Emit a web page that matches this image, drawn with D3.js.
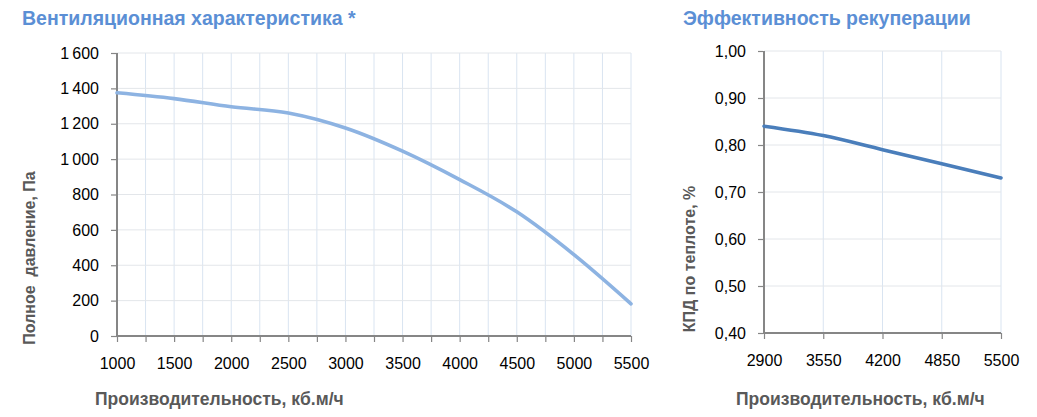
<!DOCTYPE html>
<html>
<head>
<meta charset="utf-8">
<script src="https://cdn.jsdelivr.net/npm/d3@7"></script>
<style>
  body { margin: 0; background: #fff; }
  svg { display: block; }
</style>
</head>
<body>
<div id="chart"></div>
<script>
// Data
const airflow = [1000, 1500, 2000, 2500, 3000, 3500, 4000, 4500, 5000, 5500];
const pressure = [1375, 1342, 1296, 1261, 1176, 1045, 884, 702, 460, 182];
const pressureTicks = [0, 200, 400, 600, 800, 1000, 1200, 1400, 1600];

const effFlow = [2900, 3550, 4200, 4850, 5500];
const efficiency = [0.84, 0.82, 0.79, 0.76, 0.73];
const effTicks = [0.4, 0.5, 0.6, 0.7, 0.8, 0.9, 1.0];

const titleLeft = "Вентиляционная характеристика *";
const titleRight = "Эффективность рекуперации";
const yLabelLeft = "Полное  давление, Па";
const yLabelRight = "КПД по теплоте, %";
const xLabel = "Производительность, кб.м/ч";

const width = 1037;
const height = 417;

const svg = d3.select("#chart")
    .append("svg")
    .attr("width", width)
    .attr("height", height);

const tickFont = "'Liberation Sans', Arial, sans-serif";
const boldFont = "'Liberation Sans', Arial, sans-serif";

// Draws one of the two panels
function panel(opts) {
    const x = d3.scaleLinear().domain(opts.xDomain).range([opts.left, opts.right]);
    const y = d3.scaleLinear().domain(opts.yDomain).range([opts.bottom, opts.top]);
    const g = svg.append("g");

    // vertical grid
    g.selectAll(".vgrid")
        .data(opts.xGrid)
        .enter()
        .append("line")
        .attr("x1", d => x(d)).attr("x2", d => x(d))
        .attr("y1", opts.top).attr("y2", opts.bottom)
        .attr("stroke", "#d9e4f1")
        .attr("stroke-width", 1);

    // horizontal grid
    g.selectAll(".hgrid")
        .data(opts.yTicks)
        .enter()
        .append("line")
        .attr("x1", opts.left).attr("x2", opts.right)
        .attr("y1", d => y(d)).attr("y2", d => y(d))
        .attr("stroke", "#e3e6ea")
        .attr("stroke-width", 1);

    // y axis
    const yAxis = d3.axisLeft(y)
        .tickValues(opts.yTicks)
        .tickSize(6)
        .tickPadding(12)
        .tickFormat(opts.yFormat);
    const ya = g.append("g")
        .attr("transform", `translate(${opts.left},0)`)
        .call(yAxis);

    // x axis
    const xAxis = d3.axisBottom(x)
        .tickValues(opts.xGrid)
        .tickSize(6)
        .tickPadding(16)
        .tickFormat(d => opts.xLabels.includes(d) ? d : "");
    const xa = g.append("g")
        .attr("transform", `translate(0,${opts.bottom})`)
        .call(xAxis);

    [ya, xa].forEach(a => {
        a.select(".domain").attr("stroke", "#868686").attr("stroke-width", 2);
        a.selectAll(".tick line").attr("stroke", "#868686").attr("stroke-width", 1.2);
        a.selectAll("text")
            .attr("fill", "#000")
            .style("font-family", tickFont)
            .style("font-size", "16px");
    });
    xa.select(".domain").attr("d", `M${opts.left},0H${opts.right}`);
    ya.select(".domain").attr("d", `M0,${opts.top}V${opts.bottom}`);

    // the line
    const line = d3.line()
        .x((d, i) => x(opts.xs[i]))
        .y(d => y(d))
        .curve(d3.curveMonotoneX);

    g.append("path")
        .datum(opts.ys)
        .attr("fill", "none")
        .attr("stroke", opts.color)
        .attr("stroke-width", 3.6)
        .attr("stroke-linecap", "round")
        .attr("d", line);

    // titles
    g.append("text")
        .attr("x", opts.titleX)
        .attr("y", 25)
        .attr("fill", "#5b8fd5")
        .style("font-family", boldFont)
        .style("font-weight", "bold")
        .style("font-size", "19.5px")
        .text(opts.title);

    g.append("text")
        .attr("x", opts.xLabelX)
        .attr("y", 405)
        .attr("fill", "#595959")
        .style("font-family", boldFont)
        .style("font-weight", "bold")
        .style("font-size", "17.5px")
        .text(xLabel);

    g.append("text")
        .attr("transform", `translate(${opts.yLabelX},${opts.yLabelY}) rotate(-90)`)
        .attr("text-anchor", "middle")
        .attr("fill", "#595959")
        .style("font-family", boldFont)
        .style("font-weight", "bold")
        .style("font-size", "16px")
        .style("white-space", "pre")
        .text(opts.yLabel);
}

panel({
    xDomain: [1000, 5500],
    yDomain: [0, 1600],
    left: 117, right: 631, top: 53, bottom: 336,
    xGrid: d3.range(1000, 5501, 250),
    xLabels: airflow,
    yTicks: pressureTicks,
    yFormat: d => d >= 1000 ? d3.format(",")(d).replace(",", "\u2009") : d,
    xs: airflow,
    ys: pressure,
    color: "#8db3e2",
    title: titleLeft,
    titleX: 22,
    xLabelX: 95,
    yLabel: yLabelLeft,
    yLabelX: 35,
    yLabelY: 258
});

panel({
    xDomain: [2900, 5500],
    yDomain: [0.4, 1.0],
    left: 764, right: 1001, top: 51, bottom: 333,
    xGrid: effFlow,
    xLabels: effFlow,
    yTicks: effTicks,
    yFormat: d => d3.format(".2f")(d).replace(".", ","),
    xs: effFlow,
    ys: efficiency,
    color: "#4a7ebb",
    title: titleRight,
    titleX: 683,
    xLabelX: 736,
    yLabel: yLabelRight,
    yLabelX: 695,
    yLabelY: 259
});
</script>
</body>
</html>
